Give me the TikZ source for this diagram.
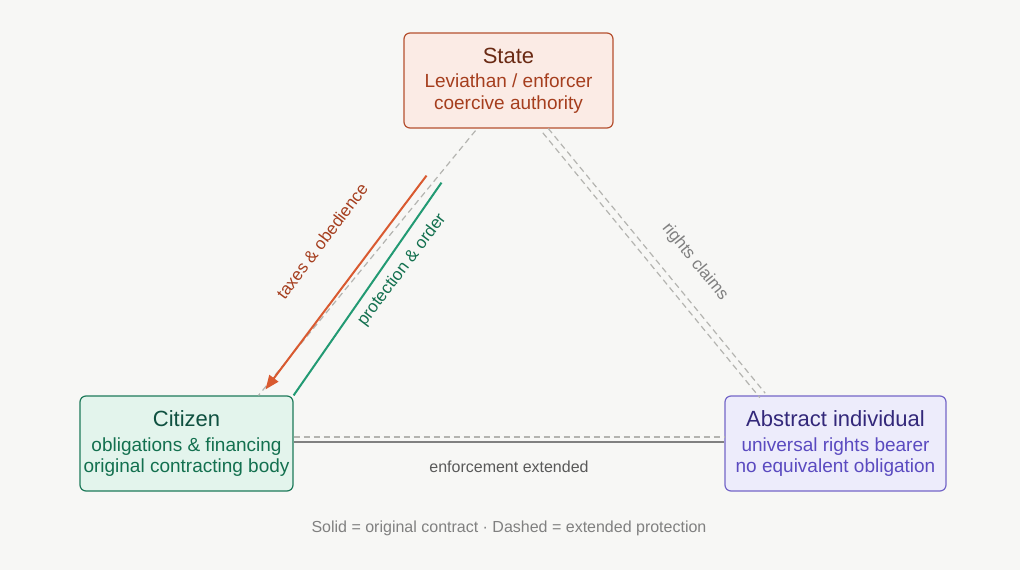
\documentclass[tikz,border=0pt]{standalone}
\usepackage{fontspec}
\setmainfont{Liberation Sans}
\usetikzlibrary{arrows.meta, positioning, calc}

\definecolor{bgcol}{HTML}{F7F7F5}
\definecolor{stfill}{HTML}{FBEBE5}
\definecolor{stdraw}{HTML}{B5502F}
\definecolor{sttext}{HTML}{6A2A14}
\definecolor{stsub}{HTML}{A53E1E}
\definecolor{cifill}{HTML}{E3F4EC}
\definecolor{cidraw}{HTML}{1E7A5A}
\definecolor{citext}{HTML}{0F5040}
\definecolor{cisub}{HTML}{13704F}
\definecolor{infill}{HTML}{EDECFB}
\definecolor{indraw}{HTML}{7466C8}
\definecolor{intext}{HTML}{33287A}
\definecolor{insub}{HTML}{5A4AC0}
\definecolor{orangeln}{HTML}{D95A30}
\definecolor{greenln}{HTML}{229A73}
\definecolor{dashgray}{HTML}{B4B4B0}

\newcommand{\boxtitle}[2]{\textcolor{#1}{\fontsize{22}{26}\selectfont #2}}

\begin{document}
\begin{tikzpicture}[
    x=1pt, y=-1pt,
    box/.style={
        rectangle,
        draw,
        rounded corners=6pt,
        align=center,
        line width=1.2pt,
        inner sep=0pt,
        minimum height=95pt,
        font=\fontsize{19}{21.5}\selectfont
    },
    label/.style={fill=bgcol, inner sep=2pt, font=\fontsize{17}{20}\selectfont},
    dashln/.style={dashgray, line width=1.2pt, dash pattern=on 6pt off 4pt},
    arrow/.style={-{Triangle[length=14pt,width=11pt]}, orangeln, line width=2pt}
]

\fill[bgcol] (0,0) rectangle (1020,570);
\useasboundingbox (0,0) rectangle (1020,570);

\node[box, fill=stfill, draw=stdraw, minimum width=209pt] (state) at (508.5,80.5)
    {\boxtitle{sttext}{State}\\[3pt]
     \textcolor{stsub}{Leviathan / enforcer}\\
     \textcolor{stsub}{coercive authority}};
\node[box, fill=cifill, draw=cidraw, minimum width=213pt] (citizen) at (186.5,443.5)
    {\boxtitle{citext}{Citizen}\\[3pt]
     \textcolor{cisub}{obligations \& financing}\\
     \textcolor{cisub}{original contracting body}};
\node[box, fill=infill, draw=indraw, minimum width=221pt] (individual) at (835.5,443.5)
    {\boxtitle{intext}{Abstract individual}\\[3pt]
     \textcolor{insub}{universal rights bearer}\\
     \textcolor{insub}{no equivalent obligation}};

% connector end points
\coordinate (sl) at ($(state.south)+(-33,2)$);
\coordinate (cs) at ($(citizen.north)+(72,0)$);
\coordinate (to) at ($(state.south)+(-82,47)$);
\coordinate (co) at ($(citizen.north)+(79,-6)$);
\coordinate (sg) at ($(state.south)+(-67,54)$);
\coordinate (cg) at (citizen.north east);
\coordinate (sr) at ($(state.south)+(37,2)$);
\coordinate (ir) at ($(individual.north)+(-73,0)$);

% original contract
\draw[dashln] (sl) -- (cs);
\draw[arrow] (to) -- (co);
\draw[greenln, line width=2pt] (sg) -- (cg);
\draw[gray, line width=2pt] ($(citizen.east)+(0,-1.5)$) -- ($(individual.west)+(0,-1.5)$);

% extended protection
\draw[dashln] ($(sr)+(2.7,-2.2)$) -- ($(ir)+(2.7,-2.2)$);
\draw[dashln] ($(sr)+(-2.7,2.2)$) -- ($(ir)+(-2.7,2.2)$);
\draw[dashln] ($(citizen.east)+(0,-6.5)$) -- ($(individual.west)+(0,-6.5)$);

\node[label, text=stsub, rotate=53] (tax) at (322,241) {taxes \& obedience};
\node[label, text=cisub, rotate=53] (prot) at (402,270) {protection \& order};
\node[label, text=gray, rotate=-51] (rights) at (695,262) {rights claims};
\node[text=black!65, font=\fontsize{16}{19}\selectfont] (enf) at (509,467) {enforcement extended};
\node[text=black!50, font=\fontsize{16}{19}\selectfont] (legend) at (509,528)
    {Solid = original contract · Dashed = extended protection};

\end{tikzpicture}
\end{document}
